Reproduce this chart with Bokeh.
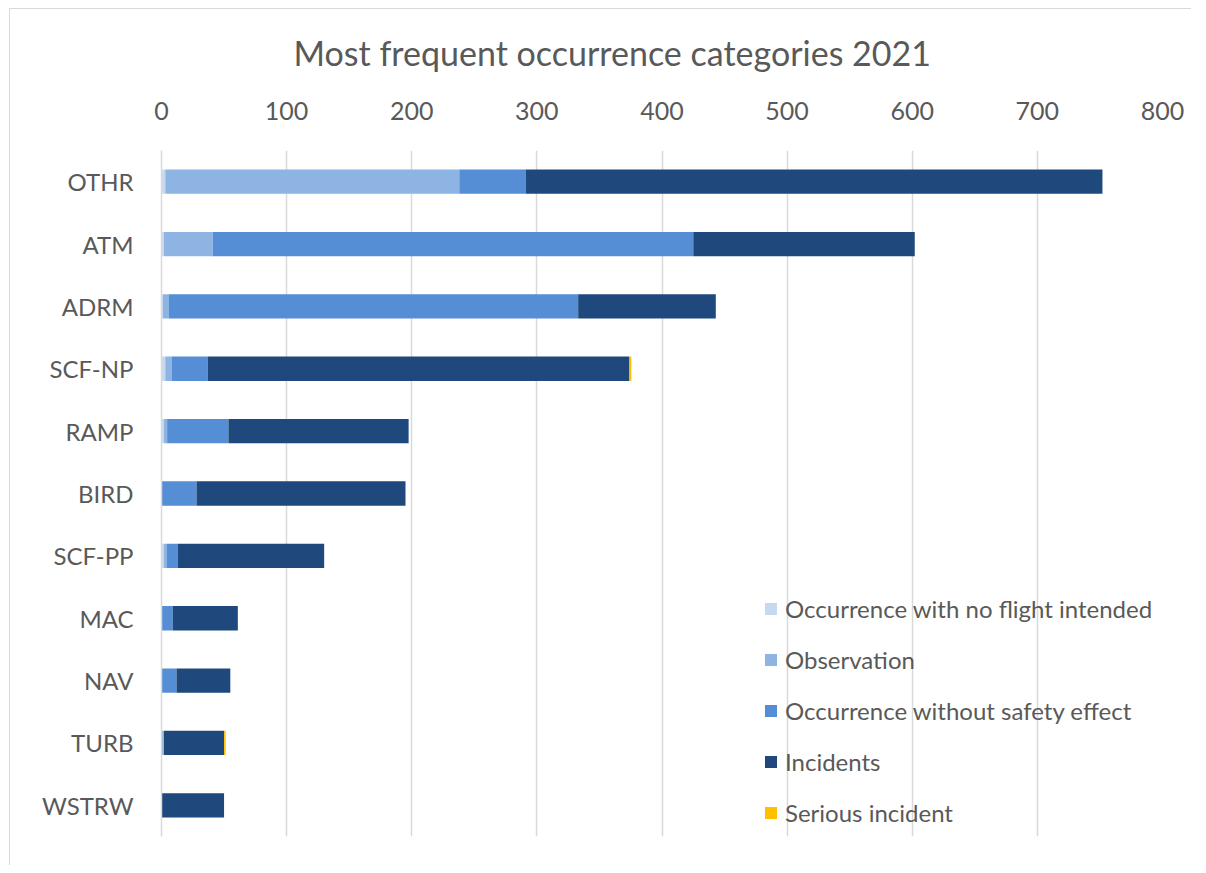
from bokeh.plotting import figure
from bokeh.models import ColumnDataSource, FactorRange, Range1d, FixedTicker
from bokeh.embed import file_html
from bokeh.resources import INLINE

categories = ["OTHR", "ATM", "ADRM", "SCF-NP", "RAMP", "BIRD", "SCF-PP", "MAC", "NAV", "TURB", "WSTRW"]
no_flight = [3, 2, 1, 3, 2, 0, 2, 0, 0, 0, 0]
observation = [235, 39, 5, 5, 2.5, 0, 2, 0, 0, 2, 0]
no_safety_effect = [53, 384, 327, 29, 49, 28, 9, 9, 12, 0, 0]
incidents = [461, 177, 110, 337, 144, 167, 117, 52, 43, 48, 50]
serious = [0, 0, 0, 1.5, 0, 0, 0, 0, 0, 1.3, 0]

series = ["no_flight", "observation", "no_safety_effect", "incidents", "serious"]
labels = ["Occurrence with no flight intended", "Observation",
          "Occurrence without safety effect", "Incidents", "Serious incident"]
colors = ["#c6d9f1", "#8eb4e3", "#558ed5", "#1f497d", "#ffc000"]
ticks = [0, 100, 200, 300, 400, 500, 600, 700, 800]

source = ColumnDataSource(dict(cat=categories, no_flight=no_flight, observation=observation,
                               no_safety_effect=no_safety_effect, incidents=incidents, serious=serious))

FONT = "Lato"
TXT = "#595959"

p = figure(width=1182, height=865, output_backend="svg", toolbar_location=None,
           y_range=FactorRange(*reversed(categories), range_padding=0),
           x_range=Range1d(0, 800), x_axis_location="above",
           title="Most frequent occurrence categories 2021",
           min_border_left=152, min_border_right=29, min_border_top=150, min_border_bottom=29)

p.hbar_stack(series, y="cat", height=0.39, fill_color=colors, line_color=None,
             source=source, legend_label=labels)

p.title.align = "left"
p.title.vertical_align = "middle"
p.title.offset = 132
p.title.standoff = 50
p.title.text_font = FONT
p.title.text_font_size = "34px"
p.title.text_font_style = "normal"
p.title.text_color = TXT

p.xaxis.ticker = FixedTicker(ticks=ticks)
p.xaxis.axis_line_color = None
p.xaxis.major_tick_line_color = None
p.xaxis.minor_tick_line_color = None
p.xaxis.major_label_text_font = FONT
p.xaxis.major_label_text_font_size = "25px"
p.xaxis.major_label_text_color = TXT
p.xaxis.major_label_standoff = 25

p.yaxis.axis_line_color = "#d9d9d9"
p.yaxis.axis_line_width = 1.5
p.yaxis.major_tick_line_color = None
p.yaxis.minor_tick_line_color = None
p.yaxis.major_label_text_font = FONT
p.yaxis.major_label_text_font_size = "24px"
p.yaxis.major_label_text_color = TXT
p.yaxis.major_label_standoff = 22

p.xgrid.grid_line_color = "#d9d9d9"
p.xgrid.grid_line_width = 1.5
p.ygrid.grid_line_color = None
p.outline_line_color = None
p.border_fill_color = None

lg = p.legend[0]
lg.location = (602, 9)
lg.border_line_color = None
lg.background_fill_alpha = 0
lg.padding = 0
lg.margin = 0
lg.glyph_width = 15
lg.glyph_height = 15
lg.label_height = 26
lg.spacing = 22
lg.label_standoff = 7
lg.label_text_font = FONT
lg.label_text_font_size = "24px"
lg.label_text_color = TXT

p.styles = {
    "margin-left": "9px",
    "background": ("linear-gradient(#d9d9d9, #d9d9d9) 0px 8px / 1px 100% no-repeat, "
                   "linear-gradient(#d9d9d9, #d9d9d9) 0px 8px / 100% 1px no-repeat, #ffffff"),
}

open("out.html", "w").write(file_html(p, INLINE))
